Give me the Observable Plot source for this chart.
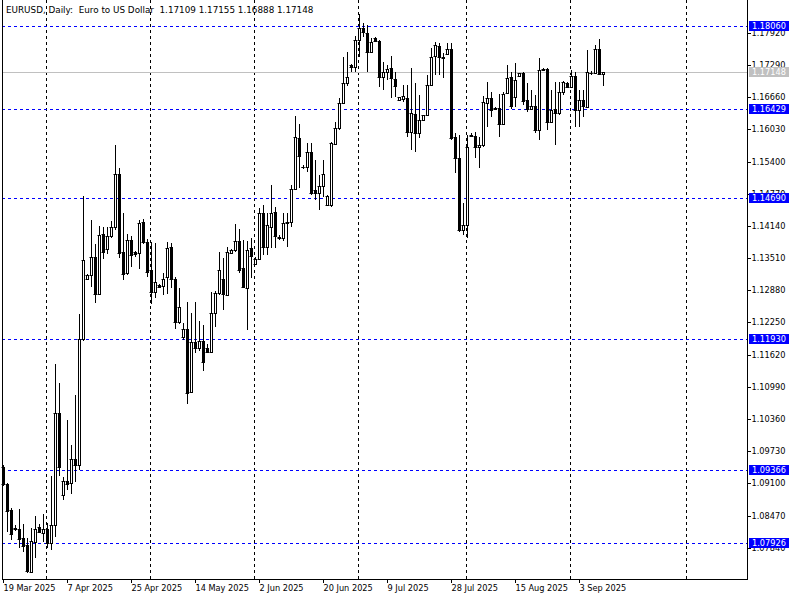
<!DOCTYPE html>
<html><head><meta charset="utf-8">
<script src="https://cdn.jsdelivr.net/npm/d3@7"></script>
<script src="https://cdn.jsdelivr.net/npm/@observablehq/plot@0.6"></script>
<style>body{margin:0;background:#fff}</style>
</head><body><div id="chart"></div>
<script>
// Daily EURUSD bars, index 0 = 19 Mar 2025 (broker includes Sunday bars)
const open = [
1.0942,1.0909,1.0858,1.0823,1.0821,1.0803,1.0789,1.0736,1.0795,1.0825,
1.0813,1.0821,1.0793,1.0828,1.1048,1.0887,1.0915,1.0911,1.0958,1.0946,
1.1193,1.1310,1.1318,1.1353,1.1281,1.1399,1.1369,1.1395,1.1411,1.1516,
1.1363,1.1322,1.1387,1.1363,1.1361,1.1422,1.1383,1.1328,1.1285,1.1298,
1.1297,1.1314,1.1373,1.1310,1.1226,1.1197,1.1212,1.1089,1.1187,1.1176,
1.1189,1.1176,1.1167,1.1244,1.1283,1.1310,1.1279,1.1361,1.1367,1.1385,
1.1332,1.1293,1.1371,1.1340,1.1349,1.1439,1.1373,1.1412,1.1441,1.1393,
1.1391,1.1420,1.1422,1.1486,1.1586,1.1530,1.1530,1.1559,1.1484,1.1478,
1.1492,1.1455,1.1455,1.1574,1.1606,1.1655,1.1694,1.1729,1.1725,1.1778,
1.1801,1.1792,1.1754,1.1782,1.1776,1.1706,1.1715,1.1723,1.1702,1.1661,
1.1663,1.1664,1.1598,1.1633,1.1596,1.1621,1.1631,1.1690,1.1747,1.1766,
1.1745,1.1751,1.1760,1.1588,1.1547,1.1406,1.1416,1.1592,1.1590,1.1569,
1.1572,1.1655,1.1664,1.1645,1.1645,1.1614,1.1674,1.1706,1.1666,1.1708,
1.1713,1.1661,1.1643,1.1649,1.1602,1.1721,1.1721,1.1617,1.1643,1.1635,
1.1676,1.1694,1.1686,1.1708,1.1641,1.1661,1.1647,1.1713,1.1713,1.1760,
1.17109];
const high = [
1.0946,1.0911,1.0862,1.0828,1.0860,1.0830,1.0803,1.0823,1.0846,1.0830,
1.0850,1.0832,1.0924,1.1144,1.1106,1.0922,1.1034,1.0985,1.1083,1.1242,
1.1473,1.1320,1.1426,1.1379,1.1414,1.1411,1.1411,1.1424,1.1572,1.1528,
1.1439,1.1399,1.1395,1.1365,1.1426,1.1428,1.1389,1.1383,1.1381,1.1300,
1.1322,1.1383,1.1381,1.1314,1.1293,1.1224,1.1265,1.1244,1.1265,1.1228,
1.1220,1.1183,1.1285,1.1287,1.1363,1.1351,1.1373,1.1369,1.1418,1.1408,
1.1387,1.1385,1.1391,1.1353,1.1449,1.1455,1.1439,1.1494,1.1451,1.1397,
1.1439,1.1439,1.1494,1.1629,1.1614,1.1533,1.1576,1.1576,1.1543,1.1514,
1.1543,1.1475,1.1578,1.1618,1.1664,1.1745,1.1754,1.1731,1.1786,1.1829,
1.1811,1.1807,1.1782,1.1784,1.1778,1.1735,1.1729,1.1747,1.1715,1.1666,
1.1690,1.1690,1.1723,1.1694,1.1670,1.1631,1.1710,1.1762,1.1774,1.1772,
1.1752,1.1772,1.1772,1.1596,1.1592,1.1459,1.1592,1.1596,1.1598,1.1588,
1.1668,1.1696,1.1676,1.1647,1.1672,1.1676,1.1729,1.1715,1.1733,1.1713,
1.1715,1.1694,1.1680,1.1670,1.1743,1.1723,1.1723,1.1680,1.1696,1.1696,
1.1698,1.1696,1.1719,1.1715,1.1680,1.1680,1.1758,1.1717,1.1768,1.1780,
1.17155];
const low = [
1.0905,1.0815,1.0799,1.0817,1.0783,1.0775,1.0734,1.0734,1.0764,1.0813,
1.0795,1.0783,1.0779,1.0805,1.0924,1.0877,1.0897,1.0889,1.0913,1.0936,
1.1189,1.1308,1.1294,1.1263,1.1279,1.1349,1.1359,1.1391,1.1407,1.1352,
1.1308,1.1318,1.1334,1.1353,1.1330,1.1379,1.1314,1.1261,1.1273,1.1293,
1.1279,1.1281,1.1293,1.1212,1.1222,1.1191,1.1065,1.1087,1.1165,1.1169,
1.1130,1.1167,1.1165,1.1216,1.1279,1.1249,1.1277,1.1359,1.1363,1.1322,
1.1293,1.1210,1.1312,1.1338,1.1347,1.1357,1.1357,1.1371,1.1371,1.1387,
1.1385,1.1373,1.1412,1.1484,1.1488,1.1526,1.1520,1.1475,1.1465,1.1445,
1.1471,1.1453,1.1451,1.1572,1.1602,1.1653,1.1688,1.1715,1.1715,1.1745,
1.1784,1.1715,1.1752,1.1776,1.1686,1.1680,1.1700,1.1664,1.1666,1.1659,
1.1657,1.1588,1.1563,1.1559,1.1586,1.1619,1.1629,1.1688,1.1710,1.1710,
1.1704,1.1749,1.1582,1.1518,1.1402,1.1396,1.1390,1.1588,1.1547,1.1527,
1.1569,1.1608,1.1627,1.1641,1.1588,1.1612,1.1672,1.1643,1.1647,1.1706,
1.1651,1.1637,1.1641,1.1596,1.1582,1.1719,1.1602,1.1615,1.1572,1.1631,
1.1670,1.1684,1.1684,1.1608,1.1608,1.1627,1.1645,1.1710,1.1711,1.1710,
1.16888];
const close = [
1.0909,1.0856,1.0811,1.0821,1.0801,1.0787,1.0738,1.0797,1.0821,1.0815,
1.0821,1.0793,1.0828,1.1048,1.0942,1.0915,1.0909,1.0958,1.0946,1.1193,
1.1347,1.1318,1.1353,1.1281,1.1397,1.1363,1.1395,1.1412,1.1516,1.1361,
1.1320,1.1387,1.1357,1.1359,1.1420,1.1383,1.1324,1.1285,1.1304,1.1295,
1.1310,1.1371,1.1310,1.1226,1.1255,1.1212,1.1087,1.1187,1.1176,1.1189,
1.1148,1.1167,1.1244,1.1283,1.1328,1.1281,1.1363,1.1367,1.1385,1.1328,
1.1295,1.1367,1.1355,1.1349,1.1439,1.1373,1.1416,1.1439,1.1395,1.1391,
1.1420,1.1422,1.1486,1.1588,1.1551,1.1529,1.1559,1.1478,1.1478,1.1492,
1.1516,1.1473,1.1576,1.1606,1.1655,1.1694,1.1706,1.1725,1.1778,1.1801,
1.1794,1.1754,1.1774,1.1776,1.1706,1.1715,1.1721,1.1704,1.1688,1.1666,
1.1668,1.1598,1.1635,1.1596,1.1621,1.1631,1.1690,1.1745,1.1768,1.1745,
1.1743,1.1760,1.1586,1.1547,1.1406,1.1416,1.1569,1.1590,1.1569,1.1572,
1.1657,1.1664,1.1641,1.1643,1.1614,1.1672,1.1704,1.1649,1.1700,1.1713,
1.1659,1.1643,1.1649,1.1602,1.1719,1.1719,1.1617,1.1641,1.1635,1.1676,
1.1696,1.1686,1.1708,1.1641,1.1661,1.1649,1.1715,1.1714,1.1760,1.1711,
1.17148];

const yTicks = [1.1792,1.1729,1.1666,1.1603,1.1540,1.1477,1.1414,1.1351,1.1288,1.1225,1.1162,1.1099,1.1036,1.0973,1.0910,1.0847,1.0784];
const xTickIdx = [0,16,32,48,64,80,96,112,128,144];
const xTickLabels = ["19 Mar 2025","7 Apr 2025","25 Apr 2025","14 May 2025","2 Jun 2025","20 Jun 2025","9 Jul 2025","28 Jul 2025","15 Aug 2025","3 Sep 2025"];
const monthStartIdx = [11,37,63,89,116,142,171]; // 1 Apr .. 1 Oct period separators
const levels = [1.18060,1.16429,1.14690,1.11930,1.09366,1.07926];
const lastPrice = 1.17148;
const title = "EURUSD, Daily:  Euro to US Dollar  1.17109 1.17155 1.16888 1.17148";

const bars = open.map((o, i) => ({i, o, h: high[i], l: low[i], c: close[i]}));
const upBars = bars.filter(d => d.c >= d.o);
const downBars = bars.filter(d => d.c < d.o);

const chart = Plot.plot({
  width: 800, height: 600,
  marginLeft: 2, marginRight: 53, marginTop: 0, marginBottom: 21,
  style: {fontFamily: "DejaVu Sans", fontSize: "8.2px", background: "#fff", color: "#000", overflow: "visible"},
  x: {type: "linear", domain: [-0.25, 186], round: true, label: null},
  y: {domain: [1.07228, 1.18563], round: true, label: null},
  marks: [
    Plot.ruleX(monthStartIdx, {x: d => d - 0.25, stroke: "#000", strokeDasharray: "3,3"}),
    Plot.ruleY(levels, {stroke: "#0000ff", strokeDasharray: "3,3"}),
    Plot.ruleY([lastPrice], {stroke: "#c0c0c0"}),
    Plot.ruleX(bars, {x: "i", y1: "l", y2: "h", stroke: "#000"}),
    Plot.rect(upBars, {x1: d => d.i - 0.25, x2: d => d.i + 0.25, y1: "o", y2: "c", fill: "#fff", stroke: "#000", dx: 0.5, dy: 0.5}),
    Plot.rect(downBars, {x1: d => d.i - 0.25, x2: d => d.i + 0.25, y1: "o", y2: "c", fill: "#000", stroke: "#000", dx: 0.5, dy: 0.5}),
    Plot.ruleY(bars, {y: "o", x1: d => d.i - 0.25, x2: d => d.i + 0.25, stroke: "#000", strokeLinecap: "square"}),
    Plot.ruleY(bars, {y: "c", x1: d => d.i - 0.25, x2: d => d.i + 0.25, stroke: "#000", strokeLinecap: "square"}),
    Plot.frame({anchor: "left"}),
    Plot.frame({anchor: "right"}),
    Plot.frame({anchor: "bottom"}),
    Plot.axisY({anchor: "right", ticks: yTicks, tickFormat: d => d.toFixed(5), tickSize: 3, tickPadding: 1}),
    Plot.axisX({ticks: xTickIdx, tickFormat: d => xTickLabels[xTickIdx.indexOf(d)], tickSize: 4, tickPadding: 2, textAnchor: "start"})
  ]
});

const svg = d3.select(chart);
const ys = chart.scale("y");
const xr = chart.scale("x").range;
const g = svg.append("g").attr("text-anchor", "start");
function addBox(v, fill) {
  const y = Math.round(ys.apply(v));
  g.append("rect").attr("x", xr[1] + 2).attr("y", y - 5).attr("width", 40).attr("height", 10).attr("fill", fill);
  g.append("text").attr("x", xr[1] + 5).attr("y", y + 3).attr("fill", "#fff").text(v.toFixed(5));
}
levels.forEach(v => addBox(v, "#0000ff"));
addBox(lastPrice, "#c0c0c0");
svg.append("text").attr("x", 6).attr("y", 12.5).attr("text-anchor", "start").attr("fill", "#000")
  .attr("xml:space", "preserve").style("white-space", "pre").style("font-size", "8.8px").text(title);

document.getElementById("chart").appendChild(chart);
</script>
</body></html>
